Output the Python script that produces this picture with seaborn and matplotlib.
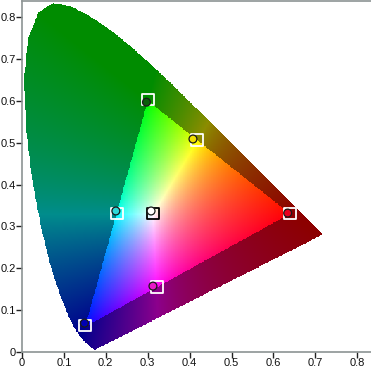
import numpy as np
import pandas as pd
import matplotlib
matplotlib.use("Agg")
import matplotlib.pyplot as plt
from matplotlib.path import Path
import seaborn as sns

# CIE 1931 spectral locus (x, y), 380-640 nm
locus_x = [0.1741, 0.1740, 0.1738, 0.1736, 0.1733, 0.1730, 0.1726, 0.1721, 0.1714, 0.1703,
           0.1689, 0.1669, 0.1644, 0.1611, 0.1566, 0.1510, 0.1440, 0.1355, 0.1241, 0.1096,
           0.0913, 0.0687, 0.0454, 0.0235, 0.0082, 0.0039, 0.0139, 0.0389, 0.0743, 0.1142,
           0.1547, 0.1929, 0.2296, 0.2658, 0.3016, 0.3373, 0.3731, 0.4087, 0.4441, 0.4788,
           0.5125, 0.5448, 0.5752, 0.6029, 0.6270, 0.6482, 0.6658, 0.6801, 0.6915, 0.7006,
           0.7079, 0.7140, 0.7190]
locus_y = [0.0050, 0.0050, 0.0049, 0.0049, 0.0048, 0.0048, 0.0048, 0.0048, 0.0051, 0.0058,
           0.0069, 0.0086, 0.0109, 0.0138, 0.0177, 0.0227, 0.0297, 0.0399, 0.0578, 0.0868,
           0.1327, 0.2007, 0.2950, 0.4127, 0.5384, 0.6548, 0.7502, 0.8120, 0.8338, 0.8262,
           0.8059, 0.7816, 0.7543, 0.7243, 0.6923, 0.6589, 0.6245, 0.5896, 0.5547, 0.5202,
           0.4866, 0.4544, 0.4242, 0.3965, 0.3725, 0.3514, 0.3340, 0.3197, 0.3083, 0.2993,
           0.2920, 0.2859, 0.2809]

# Reference squares (primaries, secondaries, white point)
sq_x = [0.640, 0.300, 0.150, 0.418, 0.226, 0.322, 0.313]
sq_y = [0.331, 0.603, 0.063, 0.506, 0.331, 0.155, 0.331]
sq_edge = ["white", "white", "white", "white", "white", "white", "black"]

# Measured circles
ci_x = [0.634, 0.297, 0.149, 0.408, 0.224, 0.3125, 0.308]
ci_y = [0.332, 0.597, 0.069, 0.509, 0.337, 0.1575, 0.337]
ci_col = ["#e8001e", "#0b5e0b", "#0000b4", "#f0e000", "#30d8d8", "#e818c8", "#ffffff"]

ticks = [0, 0.1, 0.2, 0.3, 0.4, 0.5, 0.6, 0.7, 0.8]
tick_labels = ["0", "0.1", "0.2", "0.3", "0.4", "0.5", "0.6", "0.7", "0.8"]

sns.set_style("white")
plt.rcParams["font.family"] = ["Liberation Sans", "DejaVu Sans"]

W, H = 371, 369
fig = plt.figure(figsize=(W / 100, H / 100), dpi=100)
ax = fig.add_axes([22 / W, 17 / H, 352 / W, 351.5 / H])

LIM = 0.84
# color field
n = 500
gx = np.linspace(0, LIM, n)
gy = np.linspace(0.0005, LIM, n)
XX, YY = np.meshgrid(gx, gy)
Xc = XX / YY
Zc = (1 - XX - YY) / YY
M = np.array([[3.2406, -1.5372, -0.4986],
              [-0.9689, 1.8758, 0.0415],
              [0.0557, -0.2040, 1.0570]])
xyz = np.stack([Xc, np.ones_like(Xc), Zc], axis=-1)
rgb = xyz @ M.T
inside_gamut = np.all(rgb >= 0, axis=-1)
rgb = np.clip(rgb, 0, None)
rgb = rgb / np.maximum(rgb.max(axis=-1, keepdims=True), 1e-9)
rgb = np.power(rgb, 1 / 1.25)
rgb = np.clip(rgb, 0, 1)
rgb[~inside_gamut] *= 0.55
path = Path(np.column_stack([locus_x + [locus_x[0]], locus_y + [locus_y[0]]]))
mask = path.contains_points(np.column_stack([XX.ravel(), YY.ravel()])).reshape(XX.shape)
img = np.dstack([rgb, mask.astype(float)])
ax.imshow(img, extent=[0, LIM, 0, LIM], origin="lower", interpolation="nearest",
          aspect="auto", zorder=1)

sq = pd.DataFrame({"x": sq_x, "y": sq_y, "edge": sq_edge})
for edge, sub in sq.groupby("edge"):
    sns.scatterplot(data=sub, x="x", y="y", marker="s", s=70, facecolor="none",
                    edgecolor=edge, linewidth=1.3, ax=ax, zorder=3, legend=False)
ci = pd.DataFrame({"x": ci_x, "y": ci_y, "c": ci_col})
sns.scatterplot(data=ci, x="x", y="y", hue="c", palette=dict(zip(ci_col, ci_col)),
                marker="o", s=32, edgecolor="#1a1a1a", linewidth=0.9, ax=ax,
                zorder=4, legend=False)

ax.set_xlim(0, LIM)
ax.set_ylim(0, LIM)
ax.set_xticks(ticks)
ax.set_xticklabels(tick_labels)
ax.set_yticks(ticks)
ax.set_yticklabels(tick_labels)
ax.set_xlabel("")
ax.set_ylabel("")
ax.tick_params(axis="both", direction="out", length=4, width=1, color="#222222",
               labelsize=8, labelcolor="#111111", pad=0.5, left=True, bottom=True)
ax.tick_params(axis="x", pad=0)
for s in ["left", "bottom", "top"]:
    ax.spines[s].set_color("#8c9393")
    ax.spines[s].set_linewidth(1.2)
ax.spines["right"].set_visible(False)

fig.savefig("out.png", dpi=100)
